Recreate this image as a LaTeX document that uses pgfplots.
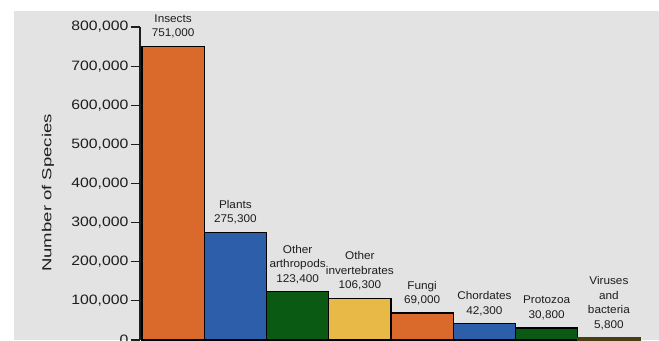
\documentclass[border=0pt]{standalone}
\usepackage{fontspec}
\setmainfont{Liberation Sans}
\newfontfamily\tickfont[FakeStretch=1.16]{Liberation Sans}
\newfontfamily\ylabfont[FakeStretch=1.42]{Liberation Sans}
\newfontfamily\barfont[FakeStretch=1.05]{Liberation Sans}
\usepackage{pgfplots}
\pgfplotsset{compat=1.18}
\definecolor{bg}{HTML}{E3E3E3}
\definecolor{cOrange}{HTML}{D96A2B}
\definecolor{cBlue}{HTML}{2D5EAA}
\definecolor{cGreen}{HTML}{0B5A14}
\definecolor{cYellow}{HTML}{E9B948}
\definecolor{cBrown}{HTML}{4A3C14}
\definecolor{txt}{HTML}{1E1E1E}
\begin{document}
\begin{tikzpicture}
\fill[bg] (10.5pt,0) rectangle (494.25pt,246.75pt);
\begin{axis}[
  at={(105pt,0pt)}, anchor=south west,
  scale only axis,
  width=378.75pt, height=234.75pt,
  xmin=-0.532, xmax=7.58,
  ymin=0, ymax=800000,
  hide x axis,
  axis y line*=left,
  y axis line style={line width=0.9pt, color=txt},
  scaled y ticks=false,
  ytick={0,100000,200000,300000,400000,500000,600000,700000,800000},
  yticklabels={0,{100,000},{200,000},{300,000},{400,000},{500,000},{600,000},{700,000},{800,000}},
  yticklabel style={font=\tickfont\fontsize{10.2pt}{11pt}\selectfont, text=txt, inner sep=1.5pt},
  tick align=outside,
  major tick length=7pt,
  y tick style={line width=0.9pt, color=txt},
  ylabel={Number of Species},
  every axis y label/.style={at={(axis description cs:-0.182,0.47)}, rotate=90, anchor=center,
    font=\ylabfont\fontsize{9.8pt}{11pt}\selectfont, text=txt},
  clip=false,
  every axis plot/.append style={ybar, bar width=1, bar shift=0pt, draw=black, line width=1pt},
  every node near coord/.append style={align=center, anchor=south, text=txt,
    font=\barfont\fontsize{8.4pt}{10.9pt}\selectfont, inner sep=2pt, yshift=3.5pt},
]
\addplot[fill=cOrange, nodes near coords={Insects\\751,000}] coordinates {(0,751000)};
\addplot[fill=cBlue, nodes near coords={Plants\\275,300}] coordinates {(1,275300)};
\addplot[fill=cGreen, nodes near coords={Other\\arthropods\\123,400}] coordinates {(2,123400)};
\addplot[fill=cYellow, nodes near coords={Other\\invertebrates\\106,300}] coordinates {(3,106300)};
\addplot[fill=cOrange, nodes near coords={Fungi\\69,000}] coordinates {(4,69000)};
\addplot[fill=cBlue, nodes near coords={Chordates\\42,300}] coordinates {(5,42300)};
\addplot[fill=cGreen, nodes near coords={Protozoa\\30,800}] coordinates {(6,30800)};
\addplot[fill=cBrown, draw=cBrown, nodes near coords={Viruses\\and\\bacteria\\5,800}] coordinates {(7,5800)};
\end{axis}
\pgfresetboundingbox
\useasboundingbox (0,0) rectangle (494.25pt,255pt);
\end{tikzpicture}
\end{document}
